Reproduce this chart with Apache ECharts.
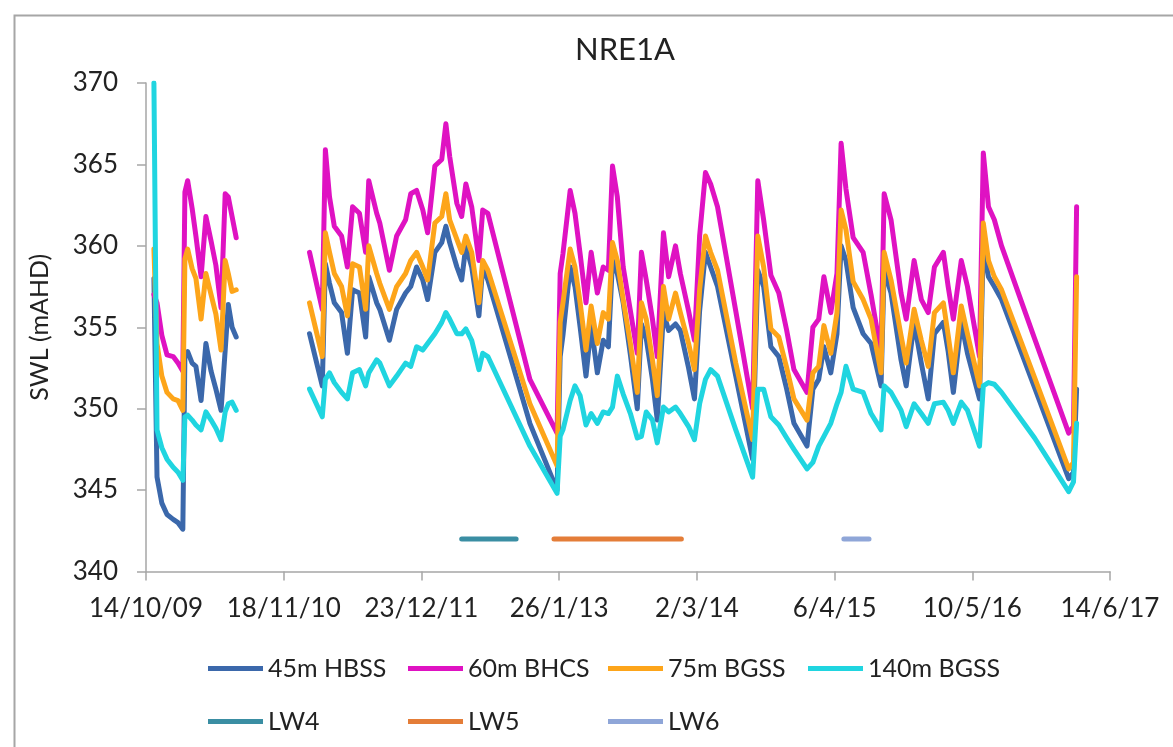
<!DOCTYPE html>
<html>
<head>
<meta charset="utf-8">
<script src="https://cdn.jsdelivr.net/npm/echarts@6/dist/echarts.min.js"></script>
<style>
  html, body { margin: 0; padding: 0; background: #fff; }
  #chart { width: 1173px; height: 747px; }
</style>
</head>
<body>
<div id="chart"></div>
<script>
// x axis: ticks every 400 days from 14/10/09
var xStart = '2009-10-14';
var xEnd = '2017-06-14';
var tickDays = 400;
var yMin = 340, yMax = 370, yStep = 5;

// logger readings (null = no data, breaks the line)
var dates = [
  '2009-11-06','2009-11-15','2009-11-29','2009-12-14','2010-01-01','2010-01-15','2010-01-29','2010-02-04','2010-02-12','2010-02-25',
  '2010-03-08','2010-03-23','2010-04-06','2010-04-21','2010-05-05','2010-05-20','2010-06-01','2010-06-10','2010-06-21','2010-07-03',
  '2010-11-01',
  '2011-02-01','2011-03-10','2011-03-19','2011-03-31','2011-04-14','2011-05-05','2011-05-22','2011-06-06','2011-06-26','2011-07-14',
  '2011-07-23','2011-08-15','2011-08-24','2011-09-21','2011-10-12','2011-11-07','2011-11-22','2011-12-09','2011-12-27','2012-01-10',
  '2012-01-31','2012-02-20','2012-03-03','2012-03-14','2012-04-04','2012-04-18','2012-04-30','2012-05-17','2012-06-07','2012-06-18',
  '2012-07-03','2012-11-02',
  '2013-01-20','2013-01-29','2013-02-06','2013-02-27','2013-03-13','2013-03-28','2013-04-14','2013-04-29','2013-05-17','2013-06-03',
  '2013-06-18','2013-06-30','2013-07-14','2013-07-31','2013-08-21','2013-09-10','2013-09-22','2013-10-06','2013-10-24','2013-11-07',
  '2013-11-25','2013-12-10','2013-12-30','2014-01-13','2014-02-06','2014-02-23','2014-03-10','2014-03-27','2014-04-11','2014-05-01',
  '2014-06-23','2014-08-11','2014-08-26','2014-09-12','2014-10-03','2014-10-26','2014-11-18','2014-12-09','2015-01-16','2015-02-02',
  '2015-02-19','2015-03-06','2015-03-26','2015-04-13','2015-04-25','2015-05-09','2015-05-30','2015-06-28','2015-07-21','2015-08-19',
  '2015-08-28','2015-09-17','2015-10-16','2015-10-31','2015-11-23','2015-12-14','2016-01-03','2016-01-21','2016-02-16','2016-03-01',
  '2016-03-16','2016-04-08','2016-04-26','2016-05-31','2016-06-11','2016-06-26','2016-07-13','2016-08-03','2016-11-07','2017-02-14',
  '2017-02-28','2017-03-09'
];

var hbss45 = [
  358.0,345.8,344.2,343.5,343.2,343.0,342.6,353.3,353.5,352.8,
  352.6,350.5,354.0,352.3,351.2,349.9,353.6,356.4,355.0,354.4,
  null,
  354.6,351.4,358.9,357.7,356.5,355.9,353.4,357.3,357.1,354.4,
  358.1,356.5,356.1,354.2,356.1,357.1,357.5,358.7,357.9,356.7,
  359.6,360.2,361.2,360.2,358.7,357.9,360.0,358.7,355.7,358.7,
  357.9,349.1,
  345.0,353.2,354.5,358.7,357.5,355.0,352.0,355.1,352.2,354.2,
  353.8,359.1,358.3,356.5,353.3,350.0,355.2,354.3,351.8,349.3,
  355.9,354.8,355.2,354.8,352.5,350.6,356.0,359.6,358.7,357.5,
  352.0,346.9,358.5,357.5,353.8,353.2,351.2,349.1,347.7,351.2,
  351.8,353.8,352.2,354.6,360.0,359.1,356.2,354.6,354.0,351.4,
  358.5,357.1,353.0,351.4,355.3,352.8,350.6,354.6,355.3,353.5,
  351.0,355.3,353.4,350.6,360.0,358.1,357.5,356.7,351.3,345.7,
  346.1,351.2
];

var bhcs60 = [
  357.0,356.5,354.5,353.3,353.2,352.8,352.3,363.3,364.0,362.3,
  360.6,358.1,361.8,360.3,358.8,356.2,363.2,363.0,361.8,360.5,
  null,
  359.6,356.1,365.9,363.0,361.2,360.6,358.7,362.4,362.0,359.6,
  364.0,362.0,361.4,358.5,360.6,361.6,363.2,363.4,362.2,360.8,
  364.9,365.3,367.5,365.5,362.6,361.8,363.8,362.4,359.1,362.2,
  362.0,351.8,
  348.5,358.3,359.5,363.4,362.0,359.5,356.5,359.6,357.1,358.7,
  358.5,364.9,363.0,358.7,356.0,353.4,359.6,357.9,355.5,353.2,
  360.8,358.1,360.0,358.3,356.0,354.2,360.6,364.5,363.8,362.4,
  356.0,350.0,364.0,361.6,358.2,357.1,354.8,352.4,351.0,355.0,
  355.5,358.1,355.9,358.3,366.3,363.5,360.5,359.6,357.0,353.4,
  363.2,361.6,357.1,355.5,359.1,356.7,355.9,358.7,359.6,357.5,
  355.5,359.1,357.5,353.2,365.7,362.4,361.6,360.0,354.3,348.5,
  348.9,362.4
];

var bgss75 = [
  359.8,354.0,352.0,351.0,350.6,350.5,349.9,359.2,359.8,358.6,
  358.0,355.5,358.3,357.0,355.8,353.6,359.1,358.3,357.2,357.3,
  null,
  356.5,353.2,360.8,359.6,358.3,357.5,355.7,358.9,358.7,356.1,
  360.0,358.3,357.7,356.1,357.5,358.3,359.1,359.6,358.7,357.9,
  361.4,361.8,363.2,361.6,360.4,359.6,360.6,359.6,356.5,359.1,
  358.5,350.3,
  346.5,355.3,356.5,359.8,358.7,356.5,353.6,356.3,354.0,355.9,
  355.5,360.2,359.1,356.7,354.0,351.0,356.5,355.5,353.0,350.8,
  357.5,355.5,357.1,355.9,354.0,352.4,357.3,360.6,359.6,358.5,
  352.8,348.1,360.6,358.7,354.9,354.4,352.5,350.6,349.3,352.2,
  352.6,355.1,353.4,355.9,362.2,361.0,357.8,356.7,355.5,352.2,
  359.6,357.9,354.5,352.8,356.1,354.2,352.6,355.9,356.5,354.5,
  352.2,356.3,354.6,351.4,361.4,359.1,358.1,357.3,351.9,346.3,
  346.7,358.1
];

var bgss140 = [
  370.0,348.7,347.6,346.9,346.4,346.1,345.6,349.5,349.6,349.3,
  349.0,348.7,349.8,349.3,348.8,348.1,349.8,350.3,350.4,349.9,
  null,
  351.2,349.5,351.8,352.2,351.6,351.0,350.6,352.2,352.4,351.4,
  352.2,353.0,352.8,351.4,352.0,352.8,352.6,353.8,353.6,354.0,
  354.6,355.3,355.9,355.5,354.6,354.6,354.9,354.2,352.4,353.4,
  353.2,347.7,
  344.8,348.3,348.7,350.5,351.4,350.8,349.0,349.7,349.1,349.8,
  349.7,350.1,352.0,350.9,349.7,348.2,348.3,349.8,349.3,347.9,
  350.1,349.8,350.1,349.7,348.9,348.1,350.3,351.8,352.4,352.0,
  348.7,345.8,351.2,351.2,349.5,349.0,348.2,347.5,346.3,346.7,
  347.7,348.3,349.1,350.3,351.0,352.6,351.2,351.0,349.7,348.7,
  351.4,351.0,349.9,348.9,350.3,349.7,349.1,350.3,350.4,349.9,
  349.1,350.4,349.9,347.7,351.4,351.6,351.5,351.0,348.2,344.9,
  345.5,349.1
];

// longwall extraction periods, drawn at a fixed level
var lw4 = ['2012-04-18', '2012-09-23'];
var lw5 = ['2013-01-11', '2014-01-16'];
var lw6 = ['2015-05-03', '2015-07-15'];
var lwLevel = 342;

var base = Date.parse(xStart);
function dayNo(s) { return (Date.parse(s) - base) / 864e5; }
function toPairs(vals) { return dates.map(function (d, i) { return [dayNo(d), vals[i]]; }); }
function lwPairs(span) { return span.map(function (d) { return [dayNo(d), lwLevel]; }); }
function dmy(v) {
  var t = new Date(base + v * 864e5);
  return t.getUTCDate() + '/' + (t.getUTCMonth() + 1) + '/' + String(t.getUTCFullYear()).slice(2);
}

var FONT = 'Lato';
var TXT = '#222';

function lineSeries(name, color, data, width) {
  return {
    name: name,
    type: 'line',
    data: data,
    symbol: 'none',
    showSymbol: false,
    connectNulls: false,
    lineStyle: { width: width, color: color, cap: 'round', join: 'round' },
    itemStyle: { color: color },
    emphasis: { disabled: true }
  };
}

// legend laid out as a fixed grid, one component per entry
var legendRows = [
  ['45m HBSS', '60m BHCS', '75m BGSS', '140m BGSS'],
  ['LW4', 'LW5', 'LW6']
];
var legends = [];
legendRows.forEach(function (row, r) {
  row.forEach(function (name, c) {
    legends.push({
      data: [name],
      left: 203 + c * 200,
      top: 651 + r * 53,
      icon: 'rect', itemWidth: 55, itemHeight: 5,
      textStyle: { fontFamily: FONT, fontSize: 25, color: TXT }
    });
  });
});

var chart = echarts.init(document.getElementById('chart'));
var option = {
  animation: false,
  backgroundColor: '#fff',
  graphic: [{
    type: 'rect',
    left: 12, top: 13,
    shape: { width: 1200, height: 800 },
    style: { fill: 'none', stroke: '#a6a6a6', lineWidth: 2 },
    silent: true
  }],
  title: {
    text: 'NRE1A',
    left: 620, top: 29,
    textAlign: 'center',
    textStyle: { fontFamily: FONT, fontSize: 31, fontWeight: 'normal', color: TXT }
  },
  grid: { left: 146, right: 63, top: 83, bottom: 175.5 },
  xAxis: {
    type: 'value',
    min: 0,
    max: dayNo(xEnd),
    interval: tickDays,
    splitLine: { show: false },
    axisLine: { show: true, lineStyle: { color: '#a6a6a6', width: 1.5 } },
    axisTick: { show: true, inside: false, length: 9, lineStyle: { color: '#a6a6a6', width: 1.5 } },
    axisLabel: {
      margin: 24, color: TXT, fontFamily: FONT, fontSize: 26,
      showMinLabel: true, showMaxLabel: true,
      formatter: dmy
    }
  },
  yAxis: {
    type: 'value',
    min: yMin, max: yMax, interval: yStep,
    name: 'SWL (mAHD)',
    nameLocation: 'middle',
    nameGap: 94,
    nameTextStyle: { fontFamily: FONT, fontSize: 25, color: TXT },
    splitLine: { show: false },
    axisLine: { show: true, lineStyle: { color: '#a6a6a6', width: 1.5 } },
    axisTick: { show: true, inside: false, length: 9, lineStyle: { color: '#a6a6a6', width: 1.5 } },
    axisLabel: { margin: 28, color: TXT, fontFamily: FONT, fontSize: 26 }
  },
  legend: legends,
  series: [
    lineSeries('45m HBSS', '#3b68ab', toPairs(hbss45), 5),
    lineSeries('60m BHCS', '#df12c2', toPairs(bhcs60), 5),
    lineSeries('75m BGSS', '#fda51a', toPairs(bgss75), 5),
    lineSeries('140m BGSS', '#20d5e0', toPairs(bgss140), 5),
    lineSeries('LW4', '#3a8ea3', lwPairs(lw4), 5),
    lineSeries('LW5', '#e47d38', lwPairs(lw5), 5),
    lineSeries('LW6', '#8fa6d8', lwPairs(lw6), 5)
  ]
};
chart.setOption(option);
</script>
</body>
</html>
